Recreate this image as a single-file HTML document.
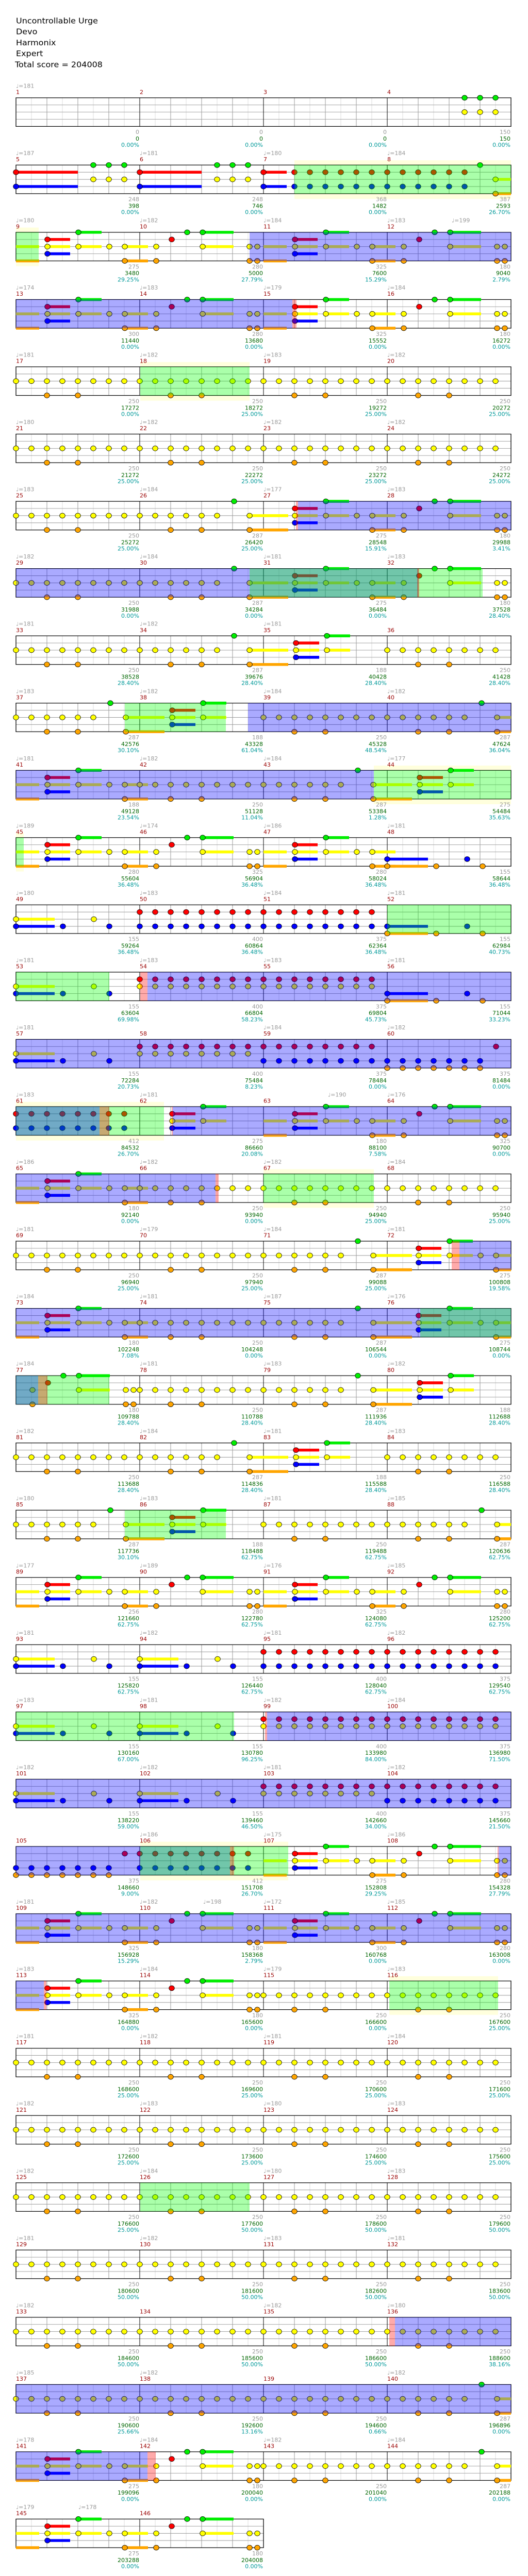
<!DOCTYPE html>
<html><head><meta charset="utf-8"><style>
html,body{margin:0;padding:0;background:#fff;overflow:hidden}
svg{display:block}
circle{r:5.3px;stroke:#000;stroke-width:.8}
.y{fill:#ff0}.o{fill:#ffa500}.r{fill:#f00}.g{fill:#0e0}.bl{fill:#00f}
.sy{stroke:#ff0;stroke-width:6}.so{stroke:#ffa500;stroke-width:6}.sr{stroke:#f00;stroke-width:6}.sg{stroke:#0e0;stroke-width:6}.sb{stroke:#00f;stroke-width:6}
.ob{fill:#00f;opacity:.333}.og{fill:#0f0;opacity:.333}.or{fill:#f00;opacity:.333}.pb{fill:#ffffdd}
text{font-family:"DejaVu Sans","Liberation Sans",sans-serif;font-size:11px}
.t{fill:#999}.m{fill:#900}.a{fill:#999;text-anchor:end}.b{fill:#060;text-anchor:end}.c{fill:#099;text-anchor:end}
.ti{font-size:16px;fill:#000}
</style></head><body>
<svg xmlns="http://www.w3.org/2000/svg" xmlns:xlink="http://www.w3.org/1999/xlink" width="1024" height="5020" viewBox="0 0 1024 5422" preserveAspectRatio="none">
<defs>
<g id="g4">
<rect x="31" y="0" width="960" height="60" fill="#fff"/>
<path d="M61 0v60M121 0v60M181 0v60M241 0v60M301 0v60M361 0v60M421 0v60M481 0v60M541 0v60M601 0v60M661 0v60M721 0v60M781 0v60M841 0v60M901 0v60M961 0v60" stroke="#ddd"/>
<path d="M91 0v60M151 0v60M211 0v60M331 0v60M391 0v60M451 0v60M571 0v60M631 0v60M691 0v60M811 0v60M871 0v60M931 0v60M31 15h960M31 30h960M31 45h960" stroke="#999"/>
<path d="M271 0v60M511 0v60M751 0v60" stroke="#000"/>
<rect x="31" y="0" width="960" height="60" fill="none" stroke="#000" stroke-width="1.3"/>
</g>
<g id="g2">
<rect x="31" y="0" width="480" height="60" fill="#fff"/>
<path d="M61 0v60M121 0v60M181 0v60M241 0v60M301 0v60M361 0v60M421 0v60M481 0v60" stroke="#ddd"/>
<path d="M91 0v60M151 0v60M211 0v60M331 0v60M391 0v60M451 0v60M31 15h480M31 30h480M31 45h480" stroke="#999"/>
<path d="M271 0v60" stroke="#000"/>
<rect x="31" y="0" width="480" height="60" fill="none" stroke="#000" stroke-width="1.3"/>
</g>
<g id="S"><circle class="y" cx="0" cy="30"/><circle class="y" cx="30" cy="30"/><circle class="y" cx="60" cy="30"/><circle class="y" cx="90" cy="30"/><circle class="y" cx="120" cy="30"/><circle class="y" cx="150" cy="30"/><circle class="y" cx="180" cy="30"/><circle class="y" cx="210" cy="30"/><circle class="o" cx="60" cy="60"/><circle class="o" cx="120" cy="60"/></g>
<g id="SE"><path class="sy" d="M213 30h75"/><path class="so" d="M213 60h75"/><circle class="y" cx="0" cy="30"/><circle class="y" cx="30" cy="30"/><circle class="y" cx="60" cy="30"/><circle class="y" cx="90" cy="30"/><circle class="y" cx="120" cy="30"/><circle class="y" cx="150" cy="30"/><circle class="o" cx="60" cy="60"/><circle class="o" cx="120" cy="60"/><circle class="g" cx="183" cy="0"/><circle class="y" cx="213" cy="30"/><circle class="o" cx="213" cy="60"/></g>
<g id="SEx"><path class="sy" d="M213 30h27"/><path class="so" d="M213 60h27"/><circle class="y" cx="0" cy="30"/><circle class="y" cx="30" cy="30"/><circle class="y" cx="60" cy="30"/><circle class="y" cx="90" cy="30"/><circle class="y" cx="120" cy="30"/><circle class="y" cx="150" cy="30"/><circle class="o" cx="60" cy="60"/><circle class="o" cx="120" cy="60"/><circle class="g" cx="183" cy="0"/><circle class="y" cx="213" cy="30"/><circle class="o" cx="213" cy="60"/></g>
<g id="T"><path class="sr" d="M63 15h45"/><path class="sy" d="M63 30h45M123 30h45"/><path class="sb" d="M63 45h45"/><path class="sg" d="M123 0h45"/><circle class="r" cx="63" cy="15"/><circle class="y" cx="63" cy="30"/><circle class="bl" cx="63" cy="45"/><circle class="g" cx="123" cy="0"/><circle class="y" cx="123" cy="30"/></g>
<g id="PA"><path class="sy" d="M0 30h45M61 30h44M121 30h45M211 30h45"/><path class="so" d="M0 60h45M211 60h45"/><path class="sr" d="M61 15h44"/><path class="sb" d="M61 45h44"/><path class="sg" d="M121 0h45"/><circle class="r" cx="61" cy="15"/><circle class="y" cx="61" cy="30"/><circle class="bl" cx="61" cy="45"/><circle class="g" cx="121" cy="0"/><circle class="y" cx="121" cy="30"/><circle class="y" cx="181" cy="30"/><circle class="y" cx="211" cy="30"/><circle class="o" cx="211" cy="60"/></g>
<g id="PAx"><path class="sy" d="M0 30h45M61 30h44M121 30h45M211 30h29"/><path class="so" d="M0 60h45M211 60h29"/><path class="sr" d="M61 15h44"/><path class="sb" d="M61 45h44"/><path class="sg" d="M121 0h45"/><circle class="r" cx="61" cy="15"/><circle class="y" cx="61" cy="30"/><circle class="bl" cx="61" cy="45"/><circle class="g" cx="121" cy="0"/><circle class="y" cx="121" cy="30"/><circle class="y" cx="181" cy="30"/><circle class="y" cx="211" cy="30"/><circle class="o" cx="211" cy="60"/></g>
<g id="PB"><path class="sg" d="M122 0h60"/><path class="sy" d="M122 30h60"/><circle class="y" cx="32" cy="30"/><circle class="o" cx="32" cy="60"/><circle class="r" cx="62" cy="15"/><circle class="g" cx="92" cy="0"/><circle class="g" cx="122" cy="0"/><circle class="y" cx="122" cy="30"/><circle class="y" cx="213" cy="30"/><circle class="y" cx="228" cy="30"/><circle class="o" cx="213" cy="60"/><circle class="o" cx="228" cy="60"/></g>
<g id="RB0"><path class="sy" d="M0 30h75"/><path class="sb" d="M0 45h75"/><circle class="y" cx="0" cy="30"/><circle class="bl" cx="0" cy="45"/><circle class="bl" cx="91" cy="45"/><circle class="y" cx="151" cy="30"/><circle class="bl" cx="181" cy="45"/></g>
<g id="RBs"><circle class="r" cx="0" cy="15"/><circle class="r" cx="30" cy="15"/><circle class="r" cx="60" cy="15"/><circle class="r" cx="90" cy="15"/><circle class="r" cx="120" cy="15"/><circle class="r" cx="150" cy="15"/><circle class="r" cx="180" cy="15"/><circle class="r" cx="210" cy="15"/><circle class="bl" cx="0" cy="45"/><circle class="bl" cx="30" cy="45"/><circle class="bl" cx="60" cy="45"/><circle class="bl" cx="90" cy="45"/><circle class="bl" cx="120" cy="45"/><circle class="bl" cx="150" cy="45"/><circle class="bl" cx="180" cy="45"/><circle class="bl" cx="210" cy="45"/></g>
<g id="RY"><circle class="r" cx="0" cy="15"/><circle class="r" cx="30" cy="15"/><circle class="r" cx="60" cy="15"/><circle class="r" cx="90" cy="15"/><circle class="r" cx="120" cy="15"/><circle class="r" cx="150" cy="15"/><circle class="r" cx="180" cy="15"/><circle class="r" cx="210" cy="15"/><circle class="y" cx="0" cy="30"/><circle class="y" cx="30" cy="30"/><circle class="y" cx="60" cy="30"/><circle class="y" cx="90" cy="30"/><circle class="y" cx="120" cy="30"/><circle class="y" cx="150" cy="30"/><circle class="y" cx="180" cy="30"/><circle class="y" cx="210" cy="30"/></g>
<g id="RB3"><path class="sb" d="M0 45h79"/><path class="so" d="M0 60h79"/><circle class="bl" cx="0" cy="45"/><circle class="o" cx="0" cy="60"/><circle class="o" cx="95" cy="60"/><circle class="bl" cx="155" cy="45"/><circle class="o" cx="185" cy="60"/></g>
<g id="BO"><circle class="bl" cx="0" cy="45"/><circle class="bl" cx="30" cy="45"/><circle class="bl" cx="60" cy="45"/><circle class="bl" cx="90" cy="45"/><circle class="bl" cx="120" cy="45"/><circle class="bl" cx="150" cy="45"/><circle class="bl" cx="180" cy="45"/><circle class="o" cx="0" cy="60"/><circle class="o" cx="30" cy="60"/><circle class="o" cx="60" cy="60"/><circle class="o" cx="90" cy="60"/><circle class="o" cx="120" cy="60"/><circle class="o" cx="150" cy="60"/><circle class="o" cx="180" cy="60"/><circle class="r" cx="211" cy="15"/></g>
<g id="G4"><circle class="g" cx="150" cy="0"/><circle class="g" cx="180" cy="0"/><circle class="g" cx="210" cy="0"/><circle class="y" cx="150" cy="30"/><circle class="y" cx="180" cy="30"/><circle class="y" cx="210" cy="30"/></g>
<g id="H"><path class="sr" d="M0 15h120"/><path class="sb" d="M0 45h120"/><circle class="r" cx="0" cy="15"/><circle class="bl" cx="0" cy="45"/><use href="#G4"/></g>
<g id="H2"><path class="sr" d="M0 15h45"/><path class="sb" d="M0 45h45"/><circle class="r" cx="0" cy="15"/><circle class="bl" cx="0" cy="45"/><circle class="r" cx="60" cy="15"/><circle class="r" cx="90" cy="15"/><circle class="r" cx="120" cy="15"/><circle class="r" cx="150" cy="15"/><circle class="r" cx="180" cy="15"/><circle class="r" cx="210" cy="15"/><circle class="bl" cx="60" cy="45"/><circle class="bl" cx="90" cy="45"/><circle class="bl" cx="120" cy="45"/><circle class="bl" cx="150" cy="45"/><circle class="bl" cx="180" cy="45"/><circle class="bl" cx="210" cy="45"/></g>
<g id="H3"><path class="sy" d="M210 30h30"/><path class="so" d="M210 60h30"/><circle class="r" cx="0" cy="15"/><circle class="r" cx="30" cy="15"/><circle class="r" cx="60" cy="15"/><circle class="r" cx="90" cy="15"/><circle class="r" cx="120" cy="15"/><circle class="r" cx="150" cy="15"/><circle class="bl" cx="0" cy="45"/><circle class="bl" cx="30" cy="45"/><circle class="bl" cx="60" cy="45"/><circle class="bl" cx="90" cy="45"/><circle class="bl" cx="120" cy="45"/><circle class="bl" cx="150" cy="45"/><circle class="g" cx="180" cy="0"/><circle class="y" cx="210" cy="30"/><circle class="o" cx="210" cy="60"/></g>
</defs>

<text class="ti" x="31" y="49">Uncontrollable Urge</text>
<text class="ti" x="31" y="72">Devo</text>
<text class="ti" x="31" y="95">Harmonix</text>
<text class="ti" x="31" y="118">Expert</text>
<text class="ti" x="29" y="141">Total score = 204008</text>

<!-- row 0 -->
<g transform="translate(0,205)"><use href="#g4"/><use href="#G4" x="751"/>
<text class="t" x="31" y="-21">♩=181</text>
<text class="m" x="31" y="-8">1</text><text class="m" x="271" y="-8">2</text><text class="m" x="511" y="-8">3</text><text class="m" x="751" y="-8">4</text>
<text class="a" x="270" y="76">0</text><text class="b" x="270" y="90">0</text><text class="c" x="270" y="103">0.00%</text>
<text class="a" x="510" y="76">0</text><text class="b" x="510" y="90">0</text><text class="c" x="510" y="103">0.00%</text>
<text class="a" x="750" y="76">0</text><text class="b" x="750" y="90">0</text><text class="c" x="750" y="103">0.00%</text>
<text class="a" x="990" y="76">150</text><text class="b" x="990" y="90">150</text><text class="c" x="990" y="103">0.00%</text></g>

<!-- row 1 -->
<g transform="translate(0,346)"><rect class="pb" x="571" y="-10" width="420" height="81"/><use href="#g4"/><use href="#H" x="31"/><use href="#H" x="271"/><use href="#H2" x="511"/><use href="#H3" x="751"/>
<rect class="og" x="571" y="0" width="420" height="60"/>
<text class="t" x="31" y="-21">♩=187</text><text class="t" x="271" y="-21">♩=181</text><text class="t" x="511" y="-21">♩=180</text><text class="t" x="751" y="-21">♩=184</text>
<text class="m" x="31" y="-8">5</text><text class="m" x="271" y="-8">6</text><text class="m" x="511" y="-8">7</text><text class="m" x="751" y="-8">8</text>
<text class="a" x="270" y="76">248</text><text class="b" x="270" y="90">398</text><text class="c" x="270" y="103">0.00%</text>
<text class="a" x="510" y="76">248</text><text class="b" x="510" y="90">746</text><text class="c" x="510" y="103">0.00%</text>
<text class="a" x="750" y="76">368</text><text class="b" x="750" y="90">1482</text><text class="c" x="750" y="103">0.00%</text>
<text class="a" x="990" y="76">387</text><text class="b" x="990" y="90">2593</text><text class="c" x="990" y="103">26.70%</text></g>

<!-- row 2 -->
<g transform="translate(0,487)"><rect class="pb" x="31" y="-10" width="44" height="81"/><use href="#g4"/><use href="#PA" x="31"/><use href="#PB" x="271"/><use href="#PA" x="511"/><use href="#PB" x="751"/>
<rect class="og" x="31" y="0" width="44" height="60"/><rect class="ob" x="484" y="0" width="507" height="60"/>
<text class="t" x="31" y="-21">♩=180</text><text class="t" x="271" y="-21">♩=182</text><text class="t" x="511" y="-21">♩=184</text><text class="t" x="751" y="-21">♩=183</text><text class="t" x="876" y="-21">♩=199</text>
<text class="m" x="31" y="-8">9</text><text class="m" x="271" y="-8">10</text><text class="m" x="511" y="-8">11</text><text class="m" x="751" y="-8">12</text>
<text class="a" x="270" y="76">275</text><text class="b" x="270" y="90">3480</text><text class="c" x="270" y="103">29.25%</text>
<text class="a" x="510" y="76">280</text><text class="b" x="510" y="90">5000</text><text class="c" x="510" y="103">27.79%</text>
<text class="a" x="750" y="76">325</text><text class="b" x="750" y="90">7600</text><text class="c" x="750" y="103">15.29%</text>
<text class="a" x="990" y="76">180</text><text class="b" x="990" y="90">9040</text><text class="c" x="990" y="103">2.79%</text></g>

<!-- row 3 -->
<g transform="translate(0,628)"><use href="#g4"/><use href="#PA" x="31"/><use href="#PB" x="271"/><use href="#PA" x="511"/><use href="#PB" x="751"/>
<rect class="ob" x="31" y="0" width="536" height="60"/><rect class="or" x="567" y="0" width="8" height="60"/>
<text class="t" x="31" y="-21">♩=174</text><text class="t" x="271" y="-21">♩=183</text><text class="t" x="511" y="-21">♩=179</text><text class="t" x="751" y="-21">♩=184</text>
<text class="m" x="31" y="-8">13</text><text class="m" x="271" y="-8">14</text><text class="m" x="511" y="-8">15</text><text class="m" x="751" y="-8">16</text>
<text class="a" x="270" y="76">300</text><text class="b" x="270" y="90">11440</text><text class="c" x="270" y="103">0.00%</text>
<text class="a" x="510" y="76">280</text><text class="b" x="510" y="90">13680</text><text class="c" x="510" y="103">0.00%</text>
<text class="a" x="750" y="76">325</text><text class="b" x="750" y="90">15552</text><text class="c" x="750" y="103">0.00%</text>
<text class="a" x="990" y="76">180</text><text class="b" x="990" y="90">16272</text><text class="c" x="990" y="103">0.00%</text></g>

<!-- row 4 -->
<g transform="translate(0,769)"><rect class="pb" x="272" y="-10" width="212" height="81"/><use href="#g4"/><use href="#S" x="31"/><use href="#S" x="271"/><use href="#S" x="511"/><use href="#S" x="751"/>
<rect class="og" x="272" y="0" width="212" height="60"/>
<text class="t" x="31" y="-21">♩=181</text><text class="t" x="271" y="-21">♩=182</text><text class="t" x="511" y="-21">♩=183</text><text class="t" x="751" y="-21">♩=182</text>
<text class="m" x="31" y="-8">17</text><text class="m" x="271" y="-8">18</text><text class="m" x="511" y="-8">19</text><text class="m" x="751" y="-8">20</text>
<text class="a" x="270" y="76">250</text><text class="b" x="270" y="90">17272</text><text class="c" x="270" y="103">0.00%</text>
<text class="a" x="510" y="76">250</text><text class="b" x="510" y="90">18272</text><text class="c" x="510" y="103">25.00%</text>
<text class="a" x="750" y="76">250</text><text class="b" x="750" y="90">19272</text><text class="c" x="750" y="103">25.00%</text>
<text class="a" x="990" y="76">250</text><text class="b" x="990" y="90">20272</text><text class="c" x="990" y="103">25.00%</text></g>

<!-- row 5 -->
<g transform="translate(0,910)"><use href="#g4"/><use href="#S" x="31"/><use href="#S" x="271"/><use href="#S" x="511"/><use href="#S" x="751"/>
<text class="t" x="31" y="-21">♩=180</text><text class="t" x="271" y="-21">♩=182</text><text class="t" x="511" y="-21">♩=182</text><text class="t" x="751" y="-21">♩=182</text>
<text class="m" x="31" y="-8">21</text><text class="m" x="271" y="-8">22</text><text class="m" x="511" y="-8">23</text><text class="m" x="751" y="-8">24</text>
<text class="a" x="270" y="76">250</text><text class="b" x="270" y="90">21272</text><text class="c" x="270" y="103">25.00%</text>
<text class="a" x="510" y="76">250</text><text class="b" x="510" y="90">22272</text><text class="c" x="510" y="103">25.00%</text>
<text class="a" x="750" y="76">250</text><text class="b" x="750" y="90">23272</text><text class="c" x="750" y="103">25.00%</text>
<text class="a" x="990" y="76">250</text><text class="b" x="990" y="90">24272</text><text class="c" x="990" y="103">25.00%</text></g>

<!-- row 6 -->
<g transform="translate(0,1051)"><use href="#g4"/><use href="#S" x="31"/><use href="#SE" x="271"/><use href="#PA" x="511"/><use href="#PB" x="751"/>
<rect class="or" x="574" y="0" width="4" height="60"/><rect class="ob" x="578" y="0" width="413" height="60"/>
<text class="t" x="31" y="-21">♩=183</text><text class="t" x="271" y="-21">♩=184</text><text class="t" x="511" y="-21">♩=177</text><text class="t" x="751" y="-21">♩=183</text>
<text class="m" x="31" y="-8">25</text><text class="m" x="271" y="-8">26</text><text class="m" x="511" y="-8">27</text><text class="m" x="751" y="-8">28</text>
<text class="a" x="270" y="76">250</text><text class="b" x="270" y="90">25272</text><text class="c" x="270" y="103">25.00%</text>
<text class="a" x="510" y="76">287</text><text class="b" x="510" y="90">26420</text><text class="c" x="510" y="103">25.00%</text>
<text class="a" x="750" y="76">275</text><text class="b" x="750" y="90">28548</text><text class="c" x="750" y="103">15.91%</text>
<text class="a" x="990" y="76">180</text><text class="b" x="990" y="90">29988</text><text class="c" x="990" y="103">3.41%</text></g>

<!-- row 7 -->
<g transform="translate(0,1192)"><use href="#g4"/><use href="#S" x="31"/><use href="#SE" x="271"/><use href="#PA" x="511"/><use href="#PB" x="751"/>
<rect class="ob" x="31" y="0" width="780" height="60"/><rect class="og" x="484" y="0" width="452" height="60"/><rect class="or" x="809" y="0" width="4" height="60"/>
<text class="t" x="31" y="-21">♩=182</text><text class="t" x="271" y="-21">♩=184</text><text class="t" x="511" y="-21">♩=181</text><text class="t" x="751" y="-21">♩=183</text>
<text class="m" x="31" y="-8">29</text><text class="m" x="271" y="-8">30</text><text class="m" x="511" y="-8">31</text><text class="m" x="751" y="-8">32</text>
<text class="a" x="270" y="76">250</text><text class="b" x="270" y="90">31988</text><text class="c" x="270" y="103">0.00%</text>
<text class="a" x="510" y="76">287</text><text class="b" x="510" y="90">34284</text><text class="c" x="510" y="103">0.00%</text>
<text class="a" x="750" y="76">275</text><text class="b" x="750" y="90">36484</text><text class="c" x="750" y="103">0.00%</text>
<text class="a" x="990" y="76">180</text><text class="b" x="990" y="90">37528</text><text class="c" x="990" y="103">28.40%</text></g>

<!-- row 8 -->
<g transform="translate(0,1333)"><use href="#g4"/><use href="#S" x="31"/><use href="#SE" x="271"/><use href="#T" x="511"/><use href="#S" x="751"/>
<text class="t" x="31" y="-21">♩=181</text><text class="t" x="271" y="-21">♩=182</text><text class="t" x="511" y="-21">♩=181</text>
<text class="m" x="31" y="-8">33</text><text class="m" x="271" y="-8">34</text><text class="m" x="511" y="-8">35</text><text class="m" x="751" y="-8">36</text>
<text class="a" x="270" y="76">250</text><text class="b" x="270" y="90">38528</text><text class="c" x="270" y="103">28.40%</text>
<text class="a" x="510" y="76">287</text><text class="b" x="510" y="90">39676</text><text class="c" x="510" y="103">28.40%</text>
<text class="a" x="750" y="76">188</text><text class="b" x="750" y="90">40428</text><text class="c" x="750" y="103">28.40%</text>
<text class="a" x="990" y="76">250</text><text class="b" x="990" y="90">41428</text><text class="c" x="990" y="103">28.40%</text></g>

<!-- row 9 -->
<g transform="translate(0,1474)"><use href="#g4"/><use href="#SE" x="31"/><use href="#T" x="271"/><use href="#S" x="511"/><use href="#SEx" x="751"/>
<rect class="og" x="242" y="0" width="196" height="60"/><rect class="ob" x="481" y="0" width="510" height="60"/>
<text class="t" x="31" y="-21">♩=183</text><text class="t" x="271" y="-21">♩=182</text><text class="t" x="511" y="-21">♩=184</text><text class="t" x="751" y="-21">♩=182</text>
<text class="m" x="31" y="-8">37</text><text class="m" x="271" y="-8">38</text><text class="m" x="511" y="-8">39</text><text class="m" x="751" y="-8">40</text>
<text class="a" x="270" y="76">287</text><text class="b" x="270" y="90">42576</text><text class="c" x="270" y="103">30.10%</text>
<text class="a" x="510" y="76">188</text><text class="b" x="510" y="90">43328</text><text class="c" x="510" y="103">61.04%</text>
<text class="a" x="750" y="76">250</text><text class="b" x="750" y="90">45328</text><text class="c" x="750" y="103">48.54%</text>
<text class="a" x="990" y="76">287</text><text class="b" x="990" y="90">47624</text><text class="c" x="990" y="103">36.04%</text></g>

<!-- row 10 -->
<g transform="translate(0,1615)"><rect class="pb" x="725" y="-10" width="266" height="81"/><use href="#g4"/><use href="#PA" x="31"/><use href="#S" x="271"/><use href="#SE" x="511"/><use href="#T" x="751"/>
<rect class="ob" x="31" y="0" width="694" height="60"/><rect class="og" x="725" y="0" width="266" height="60"/>
<text class="t" x="31" y="-21">♩=181</text><text class="t" x="271" y="-21">♩=182</text><text class="t" x="511" y="-21">♩=184</text><text class="t" x="751" y="-21">♩=177</text>
<text class="m" x="31" y="-8">41</text><text class="m" x="271" y="-8">42</text><text class="m" x="511" y="-8">43</text><text class="m" x="751" y="-8">44</text>
<text class="a" x="270" y="76">188</text><text class="b" x="270" y="90">49128</text><text class="c" x="270" y="103">23.54%</text>
<text class="a" x="510" y="76">250</text><text class="b" x="510" y="90">51128</text><text class="c" x="510" y="103">11.04%</text>
<text class="a" x="750" y="76">287</text><text class="b" x="750" y="90">53384</text><text class="c" x="750" y="103">1.28%</text>
<text class="a" x="990" y="76">275</text><text class="b" x="990" y="90">54484</text><text class="c" x="990" y="103">35.63%</text></g>

<!-- row 11 -->
<g transform="translate(0,1756)"><rect class="pb" x="31" y="-10" width="15" height="81"/><use href="#g4"/><use href="#PA" x="31"/><use href="#PB" x="271"/><use href="#PA" x="511"/><use href="#RB3" x="751"/>
<rect class="og" x="31" y="0" width="15" height="60"/>
<text class="t" x="31" y="-21">♩=189</text><text class="t" x="271" y="-21">♩=174</text><text class="t" x="511" y="-21">♩=186</text><text class="t" x="751" y="-21">♩=181</text>
<text class="m" x="31" y="-8">45</text><text class="m" x="271" y="-8">46</text><text class="m" x="511" y="-8">47</text><text class="m" x="751" y="-8">48</text>
<text class="a" x="270" y="76">280</text><text class="b" x="270" y="90">55604</text><text class="c" x="270" y="103">36.48%</text>
<text class="a" x="510" y="76">325</text><text class="b" x="510" y="90">56904</text><text class="c" x="510" y="103">36.48%</text>
<text class="a" x="750" y="76">280</text><text class="b" x="750" y="90">58024</text><text class="c" x="750" y="103">36.48%</text>
<text class="a" x="990" y="76">155</text><text class="b" x="990" y="90">58644</text><text class="c" x="990" y="103">36.48%</text></g>

<!-- row 12 -->
<g transform="translate(0,1897)"><use href="#g4"/><use href="#RB0" x="31"/><use href="#RBs" x="271"/><use href="#RBs" x="511"/><use href="#RB3" x="751"/>
<rect class="og" x="751" y="0" width="240" height="60"/>
<text class="t" x="31" y="-21">♩=180</text><text class="t" x="271" y="-21">♩=183</text><text class="t" x="511" y="-21">♩=184</text><text class="t" x="751" y="-21">♩=181</text>
<text class="m" x="31" y="-8">49</text><text class="m" x="271" y="-8">50</text><text class="m" x="511" y="-8">51</text><text class="m" x="751" y="-8">52</text>
<text class="a" x="270" y="76">155</text><text class="b" x="270" y="90">59264</text><text class="c" x="270" y="103">36.48%</text>
<text class="a" x="510" y="76">400</text><text class="b" x="510" y="90">60864</text><text class="c" x="510" y="103">36.48%</text>
<text class="a" x="750" y="76">375</text><text class="b" x="750" y="90">62364</text><text class="c" x="750" y="103">36.48%</text>
<text class="a" x="990" y="76">155</text><text class="b" x="990" y="90">62984</text><text class="c" x="990" y="103">40.73%</text></g>

<!-- row 13 -->
<g transform="translate(0,2038)"><use href="#g4"/><use href="#RB0" x="31"/><use href="#RY" x="271"/><use href="#RY" x="511"/><use href="#RB3" x="751"/>
<rect class="og" x="31" y="0" width="181" height="60"/><rect class="or" x="272" y="0" width="14" height="60"/><rect class="ob" x="286" y="0" width="705" height="60"/>
<text class="t" x="31" y="-21">♩=181</text><text class="t" x="271" y="-21">♩=183</text><text class="t" x="511" y="-21">♩=183</text><text class="t" x="751" y="-21">♩=181</text>
<text class="m" x="31" y="-8">53</text><text class="m" x="271" y="-8">54</text><text class="m" x="511" y="-8">55</text><text class="m" x="751" y="-8">56</text>
<text class="a" x="270" y="76">155</text><text class="b" x="270" y="90">63604</text><text class="c" x="270" y="103">69.98%</text>
<text class="a" x="510" y="76">400</text><text class="b" x="510" y="90">66804</text><text class="c" x="510" y="103">58.23%</text>
<text class="a" x="750" y="76">375</text><text class="b" x="750" y="90">69804</text><text class="c" x="750" y="103">45.73%</text>
<text class="a" x="990" y="76">155</text><text class="b" x="990" y="90">71044</text><text class="c" x="990" y="103">33.23%</text></g>

<!-- row 14 -->
<g transform="translate(0,2179)"><use href="#g4"/><use href="#RB0" x="31"/><use href="#RY" x="271"/><use href="#RBs" x="511"/><use href="#BO" x="751"/>
<rect class="ob" x="31" y="0" width="960" height="60"/>
<text class="t" x="31" y="-21">♩=181</text><text class="t" x="511" y="-21">♩=184</text><text class="t" x="751" y="-21">♩=182</text>
<text class="m" x="31" y="-8">57</text><text class="m" x="271" y="-8">58</text><text class="m" x="511" y="-8">59</text><text class="m" x="751" y="-8">60</text>
<text class="a" x="270" y="76">155</text><text class="b" x="270" y="90">72284</text><text class="c" x="270" y="103">20.73%</text>
<text class="a" x="510" y="76">400</text><text class="b" x="510" y="90">75484</text><text class="c" x="510" y="103">8.23%</text>
<text class="a" x="750" y="76">375</text><text class="b" x="750" y="90">78484</text><text class="c" x="750" y="103">0.00%</text>
<text class="a" x="990" y="76">375</text><text class="b" x="990" y="90">81484</text><text class="c" x="990" y="103">0.00%</text></g>

<!-- row 15 -->
<g transform="translate(0,2320)"><rect class="pb" x="31" y="-10" width="287" height="81"/><use href="#g4"/><use href="#RBs" x="31"/><use href="#T" x="271"/><use href="#PA" x="511"/><use href="#PB" x="751"/>
<rect class="og" x="31" y="0" width="287" height="60"/><rect class="ob" x="31" y="0" width="162" height="60"/><rect class="or" x="193" y="0" width="19" height="60"/><rect class="or" x="333" y="0" width="2" height="60"/><rect class="ob" x="335" y="0" width="656" height="60"/>
<text class="t" x="31" y="-21">♩=183</text><text class="t" x="271" y="-21">♩=181</text><text class="t" x="636" y="-21">♩=190</text><text class="t" x="751" y="-21">♩=176</text>
<text class="m" x="31" y="-8">61</text><text class="m" x="271" y="-8">62</text><text class="m" x="511" y="-8">63</text><text class="m" x="751" y="-8">64</text>
<text class="a" x="270" y="76">412</text><text class="b" x="270" y="90">84532</text><text class="c" x="270" y="103">26.70%</text>
<text class="a" x="510" y="76">275</text><text class="b" x="510" y="90">86660</text><text class="c" x="510" y="103">20.08%</text>
<text class="a" x="750" y="76">180</text><text class="b" x="750" y="90">88100</text><text class="c" x="750" y="103">7.58%</text>
<text class="a" x="990" y="76">325</text><text class="b" x="990" y="90">90700</text><text class="c" x="990" y="103">0.00%</text></g>

<!-- row 16 -->
<g transform="translate(0,2461)"><rect class="pb" x="511" y="-10" width="214" height="81"/><use href="#g4"/><use href="#PA" x="31"/><use href="#S" x="271"/><use href="#S" x="511"/><use href="#S" x="751"/>
<rect class="ob" x="31" y="0" width="387" height="60"/><rect class="or" x="418" y="0" width="6" height="60"/><rect class="og" x="511" y="0" width="214" height="60"/>
<text class="t" x="31" y="-21">♩=186</text><text class="t" x="271" y="-21">♩=182</text><text class="t" x="511" y="-21">♩=182</text><text class="t" x="751" y="-21">♩=184</text>
<text class="m" x="31" y="-8">65</text><text class="m" x="271" y="-8">66</text><text class="m" x="511" y="-8">67</text><text class="m" x="751" y="-8">68</text>
<text class="a" x="270" y="76">180</text><text class="b" x="270" y="90">92140</text><text class="c" x="270" y="103">0.00%</text>
<text class="a" x="510" y="76">250</text><text class="b" x="510" y="90">93940</text><text class="c" x="510" y="103">0.00%</text>
<text class="a" x="750" y="76">250</text><text class="b" x="750" y="90">94940</text><text class="c" x="750" y="103">25.00%</text>
<text class="a" x="990" y="76">250</text><text class="b" x="990" y="90">95940</text><text class="c" x="990" y="103">25.00%</text></g>

<!-- row 17 -->
<g transform="translate(0,2602)"><use href="#g4"/><use href="#S" x="31"/><use href="#S" x="271"/><use href="#SE" x="511"/><use href="#PAx" x="751"/>
<rect class="or" x="876" y="0" width="15" height="60"/><rect class="ob" x="891" y="0" width="100" height="60"/>
<text class="t" x="31" y="-21">♩=181</text><text class="t" x="271" y="-21">♩=179</text><text class="t" x="511" y="-21">♩=184</text><text class="t" x="751" y="-21">♩=181</text>
<text class="m" x="31" y="-8">69</text><text class="m" x="271" y="-8">70</text><text class="m" x="511" y="-8">71</text><text class="m" x="751" y="-8">72</text>
<text class="a" x="270" y="76">250</text><text class="b" x="270" y="90">96940</text><text class="c" x="270" y="103">25.00%</text>
<text class="a" x="510" y="76">250</text><text class="b" x="510" y="90">97940</text><text class="c" x="510" y="103">25.00%</text>
<text class="a" x="750" y="76">287</text><text class="b" x="750" y="90">99088</text><text class="c" x="750" y="103">25.00%</text>
<text class="a" x="990" y="76">275</text><text class="b" x="990" y="90">100808</text><text class="c" x="990" y="103">19.58%</text></g>

<!-- row 18 -->
<g transform="translate(0,2743)"><use href="#g4"/><use href="#PA" x="31"/><use href="#S" x="271"/><use href="#SE" x="511"/><use href="#PAx" x="751"/>
<rect class="ob" x="31" y="0" width="960" height="60"/><rect class="og" x="815" y="0" width="176" height="60"/>
<text class="t" x="31" y="-21">♩=184</text><text class="t" x="271" y="-21">♩=181</text><text class="t" x="511" y="-21">♩=187</text><text class="t" x="751" y="-21">♩=176</text>
<text class="m" x="31" y="-8">73</text><text class="m" x="271" y="-8">74</text><text class="m" x="511" y="-8">75</text><text class="m" x="751" y="-8">76</text>
<text class="a" x="270" y="76">180</text><text class="b" x="270" y="90">102248</text><text class="c" x="270" y="103">7.08%</text>
<text class="a" x="510" y="76">250</text><text class="b" x="510" y="90">104248</text><text class="c" x="510" y="103">0.00%</text>
<text class="a" x="750" y="76">287</text><text class="b" x="750" y="90">106544</text><text class="c" x="750" y="103">0.00%</text>
<text class="a" x="990" y="76">275</text><text class="b" x="990" y="90">108744</text><text class="c" x="990" y="103">0.00%</text></g>

<!-- row 19 -->
<g transform="translate(0,2884)"><use href="#g4"/><use href="#PB" x="31"/><use href="#S" x="271"/><use href="#SE" x="511"/><use href="#T" x="751"/>
<rect class="og" x="31" y="0" width="181" height="60"/><rect class="ob" x="31" y="0" width="43" height="60"/><rect class="or" x="74" y="0" width="18" height="60"/>
<text class="t" x="31" y="-21">♩=184</text><text class="t" x="271" y="-21">♩=181</text><text class="t" x="511" y="-21">♩=183</text><text class="t" x="751" y="-21">♩=182</text>
<text class="m" x="31" y="-8">77</text><text class="m" x="271" y="-8">78</text><text class="m" x="511" y="-8">79</text><text class="m" x="751" y="-8">80</text>
<text class="a" x="270" y="76">180</text><text class="b" x="270" y="90">109788</text><text class="c" x="270" y="103">28.40%</text>
<text class="a" x="510" y="76">250</text><text class="b" x="510" y="90">110788</text><text class="c" x="510" y="103">28.40%</text>
<text class="a" x="750" y="76">287</text><text class="b" x="750" y="90">111936</text><text class="c" x="750" y="103">28.40%</text>
<text class="a" x="990" y="76">188</text><text class="b" x="990" y="90">112688</text><text class="c" x="990" y="103">28.40%</text></g>

<!-- row 20 -->
<g transform="translate(0,3025)"><use href="#g4"/><use href="#S" x="31"/><use href="#SE" x="271"/><use href="#T" x="511"/><use href="#S" x="751"/>
<text class="t" x="31" y="-21">♩=182</text><text class="t" x="271" y="-21">♩=184</text><text class="t" x="511" y="-21">♩=181</text><text class="t" x="751" y="-21">♩=183</text>
<text class="m" x="31" y="-8">81</text><text class="m" x="271" y="-8">82</text><text class="m" x="511" y="-8">83</text><text class="m" x="751" y="-8">84</text>
<text class="a" x="270" y="76">250</text><text class="b" x="270" y="90">113688</text><text class="c" x="270" y="103">28.40%</text>
<text class="a" x="510" y="76">287</text><text class="b" x="510" y="90">114836</text><text class="c" x="510" y="103">28.40%</text>
<text class="a" x="750" y="76">188</text><text class="b" x="750" y="90">115588</text><text class="c" x="750" y="103">28.40%</text>
<text class="a" x="990" y="76">250</text><text class="b" x="990" y="90">116588</text><text class="c" x="990" y="103">28.40%</text></g>

<!-- row 21 -->
<g transform="translate(0,3166)"><use href="#g4"/><use href="#SE" x="31"/><use href="#T" x="271"/><use href="#S" x="511"/><use href="#SEx" x="751"/>
<rect class="og" x="242" y="0" width="196" height="60"/>
<text class="t" x="31" y="-21">♩=180</text><text class="t" x="271" y="-21">♩=183</text><text class="t" x="511" y="-21">♩=181</text><text class="t" x="751" y="-21">♩=185</text>
<text class="m" x="31" y="-8">85</text><text class="m" x="271" y="-8">86</text><text class="m" x="511" y="-8">87</text><text class="m" x="751" y="-8">88</text>
<text class="a" x="270" y="76">287</text><text class="b" x="270" y="90">117736</text><text class="c" x="270" y="103">30.10%</text>
<text class="a" x="510" y="76">188</text><text class="b" x="510" y="90">118488</text><text class="c" x="510" y="103">62.75%</text>
<text class="a" x="750" y="76">250</text><text class="b" x="750" y="90">119488</text><text class="c" x="750" y="103">62.75%</text>
<text class="a" x="990" y="76">287</text><text class="b" x="990" y="90">120636</text><text class="c" x="990" y="103">62.75%</text></g>

<!-- row 22 -->
<g transform="translate(0,3307)"><use href="#g4"/><use href="#PA" x="31"/><use href="#PB" x="271"/><use href="#PA" x="511"/><use href="#PB" x="751"/>
<text class="t" x="31" y="-21">♩=177</text><text class="t" x="271" y="-21">♩=189</text><text class="t" x="511" y="-21">♩=176</text><text class="t" x="751" y="-21">♩=185</text>
<text class="m" x="31" y="-8">89</text><text class="m" x="271" y="-8">90</text><text class="m" x="511" y="-8">91</text><text class="m" x="751" y="-8">92</text>
<text class="a" x="270" y="76">256</text><text class="b" x="270" y="90">121660</text><text class="c" x="270" y="103">62.75%</text>
<text class="a" x="510" y="76">280</text><text class="b" x="510" y="90">122780</text><text class="c" x="510" y="103">62.75%</text>
<text class="a" x="750" y="76">325</text><text class="b" x="750" y="90">124080</text><text class="c" x="750" y="103">62.75%</text>
<text class="a" x="990" y="76">280</text><text class="b" x="990" y="90">125200</text><text class="c" x="990" y="103">62.75%</text></g>

<!-- row 23 -->
<g transform="translate(0,3448)"><use href="#g4"/><use href="#RB0" x="31"/><use href="#RB0" x="271"/><use href="#RBs" x="511"/><use href="#RBs" x="751"/>
<text class="t" x="31" y="-21">♩=181</text><text class="t" x="271" y="-21">♩=182</text><text class="t" x="511" y="-21">♩=181</text><text class="t" x="751" y="-21">♩=182</text>
<text class="m" x="31" y="-8">93</text><text class="m" x="271" y="-8">94</text><text class="m" x="511" y="-8">95</text><text class="m" x="751" y="-8">96</text>
<text class="a" x="270" y="76">155</text><text class="b" x="270" y="90">125820</text><text class="c" x="270" y="103">62.75%</text>
<text class="a" x="510" y="76">155</text><text class="b" x="510" y="90">126440</text><text class="c" x="510" y="103">62.75%</text>
<text class="a" x="750" y="76">400</text><text class="b" x="750" y="90">128040</text><text class="c" x="750" y="103">62.75%</text>
<text class="a" x="990" y="76">375</text><text class="b" x="990" y="90">129540</text><text class="c" x="990" y="103">62.75%</text></g>

<!-- row 24 -->
<g transform="translate(0,3589)"><use href="#g4"/><use href="#RB0" x="31"/><use href="#RB0" x="271"/><use href="#RY" x="511"/><use href="#RY" x="751"/>
<rect class="og" x="31" y="0" width="423" height="60"/><rect class="or" x="514" y="0" width="4" height="60"/><rect class="ob" x="518" y="0" width="473" height="60"/>
<text class="t" x="31" y="-21">♩=183</text><text class="t" x="271" y="-21">♩=181</text><text class="t" x="511" y="-21">♩=182</text><text class="t" x="751" y="-21">♩=184</text>
<text class="m" x="31" y="-8">97</text><text class="m" x="271" y="-8">98</text><text class="m" x="511" y="-8">99</text><text class="m" x="751" y="-8">100</text>
<text class="a" x="270" y="76">155</text><text class="b" x="270" y="90">130160</text><text class="c" x="270" y="103">67.00%</text>
<text class="a" x="510" y="76">155</text><text class="b" x="510" y="90">130780</text><text class="c" x="510" y="103">96.25%</text>
<text class="a" x="750" y="76">400</text><text class="b" x="750" y="90">133980</text><text class="c" x="750" y="103">84.00%</text>
<text class="a" x="990" y="76">375</text><text class="b" x="990" y="90">136980</text><text class="c" x="990" y="103">71.50%</text></g>

<!-- row 25 -->
<g transform="translate(0,3730)"><use href="#g4"/><use href="#RB0" x="31"/><use href="#RB0" x="271"/><use href="#RY" x="511"/><use href="#RBs" x="751"/>
<rect class="ob" x="31" y="0" width="960" height="60"/>
<text class="t" x="31" y="-21">♩=182</text><text class="t" x="271" y="-21">♩=182</text><text class="t" x="511" y="-21">♩=181</text><text class="t" x="751" y="-21">♩=182</text>
<text class="m" x="31" y="-8">101</text><text class="m" x="271" y="-8">102</text><text class="m" x="511" y="-8">103</text><text class="m" x="751" y="-8">104</text>
<text class="a" x="270" y="76">155</text><text class="b" x="270" y="90">138220</text><text class="c" x="270" y="103">59.00%</text>
<text class="a" x="510" y="76">155</text><text class="b" x="510" y="90">139460</text><text class="c" x="510" y="103">46.50%</text>
<text class="a" x="750" y="76">400</text><text class="b" x="750" y="90">142660</text><text class="c" x="750" y="103">34.00%</text>
<text class="a" x="990" y="76">375</text><text class="b" x="990" y="90">145660</text><text class="c" x="990" y="103">21.50%</text></g>

<!-- row 26 -->
<g transform="translate(0,3871)"><rect class="pb" x="272" y="-10" width="287" height="81"/><use href="#g4"/><use href="#BO" x="31"/><use href="#RBs" x="271"/><use href="#PA" x="511"/><use href="#PB" x="751"/>
<rect class="ob" x="31" y="0" width="415" height="60"/><rect class="og" x="272" y="0" width="287" height="60"/><rect class="or" x="446" y="0" width="8" height="60"/><rect class="or" x="965" y="0" width="2" height="60"/><rect class="ob" x="967" y="0" width="24" height="60"/>
<text class="t" x="271" y="-21">♩=186</text><text class="t" x="511" y="-21">♩=175</text><text class="t" x="751" y="-21">♩=186</text>
<text class="m" x="31" y="-8">105</text><text class="m" x="271" y="-8">106</text><text class="m" x="511" y="-8">107</text><text class="m" x="751" y="-8">108</text>
<text class="a" x="270" y="76">375</text><text class="b" x="270" y="90">148660</text><text class="c" x="270" y="103">9.00%</text>
<text class="a" x="510" y="76">412</text><text class="b" x="510" y="90">151708</text><text class="c" x="510" y="103">26.70%</text>
<text class="a" x="750" y="76">275</text><text class="b" x="750" y="90">152808</text><text class="c" x="750" y="103">29.25%</text>
<text class="a" x="990" y="76">280</text><text class="b" x="990" y="90">154328</text><text class="c" x="990" y="103">27.79%</text></g>

<!-- row 27 -->
<g transform="translate(0,4012)"><use href="#g4"/><use href="#PA" x="31"/><use href="#PB" x="271"/><use href="#PA" x="511"/><use href="#PB" x="751"/>
<rect class="ob" x="31" y="0" width="960" height="60"/>
<text class="t" x="31" y="-21">♩=181</text><text class="t" x="271" y="-21">♩=182</text><text class="t" x="394" y="-21">♩=198</text><text class="t" x="511" y="-21">♩=172</text><text class="t" x="751" y="-21">♩=185</text>
<text class="m" x="31" y="-8">109</text><text class="m" x="271" y="-8">110</text><text class="m" x="511" y="-8">111</text><text class="m" x="751" y="-8">112</text>
<text class="a" x="270" y="76">325</text><text class="b" x="270" y="90">156928</text><text class="c" x="270" y="103">15.29%</text>
<text class="a" x="510" y="76">180</text><text class="b" x="510" y="90">158368</text><text class="c" x="510" y="103">2.79%</text>
<text class="a" x="750" y="76">300</text><text class="b" x="750" y="90">160768</text><text class="c" x="750" y="103">0.00%</text>
<text class="a" x="990" y="76">280</text><text class="b" x="990" y="90">163008</text><text class="c" x="990" y="103">0.00%</text></g>

<!-- row 28 -->
<g transform="translate(0,4153)"><rect class="pb" x="755" y="-10" width="211" height="81"/><use href="#g4"/><use href="#PA" x="31"/><use href="#PB" x="271"/><use href="#S" x="511"/><use href="#S" x="751"/>
<rect class="ob" x="31" y="0" width="54" height="60"/><rect class="or" x="85" y="0" width="5" height="60"/><rect class="og" x="755" y="0" width="211" height="60"/>
<text class="t" x="31" y="-21">♩=183</text><text class="t" x="271" y="-21">♩=184</text><text class="t" x="511" y="-21">♩=179</text><text class="t" x="751" y="-21">♩=183</text>
<text class="m" x="31" y="-8">113</text><text class="m" x="271" y="-8">114</text><text class="m" x="511" y="-8">115</text><text class="m" x="751" y="-8">116</text>
<text class="a" x="270" y="76">325</text><text class="b" x="270" y="90">164880</text><text class="c" x="270" y="103">0.00%</text>
<text class="a" x="510" y="76">180</text><text class="b" x="510" y="90">165600</text><text class="c" x="510" y="103">0.00%</text>
<text class="a" x="750" y="76">250</text><text class="b" x="750" y="90">166600</text><text class="c" x="750" y="103">0.00%</text>
<text class="a" x="990" y="76">250</text><text class="b" x="990" y="90">167600</text><text class="c" x="990" y="103">25.00%</text></g>

<!-- row 29 -->
<g transform="translate(0,4294)"><use href="#g4"/><use href="#S" x="31"/><use href="#S" x="271"/><use href="#S" x="511"/><use href="#S" x="751"/>
<text class="t" x="31" y="-21">♩=181</text><text class="t" x="271" y="-21">♩=182</text><text class="t" x="511" y="-21">♩=181</text><text class="t" x="751" y="-21">♩=184</text>
<text class="m" x="31" y="-8">117</text><text class="m" x="271" y="-8">118</text><text class="m" x="511" y="-8">119</text><text class="m" x="751" y="-8">120</text>
<text class="a" x="270" y="76">250</text><text class="b" x="270" y="90">168600</text><text class="c" x="270" y="103">25.00%</text>
<text class="a" x="510" y="76">250</text><text class="b" x="510" y="90">169600</text><text class="c" x="510" y="103">25.00%</text>
<text class="a" x="750" y="76">250</text><text class="b" x="750" y="90">170600</text><text class="c" x="750" y="103">25.00%</text>
<text class="a" x="990" y="76">250</text><text class="b" x="990" y="90">171600</text><text class="c" x="990" y="103">25.00%</text></g>

<!-- row 30 -->
<g transform="translate(0,4435)"><use href="#g4"/><use href="#S" x="31"/><use href="#S" x="271"/><use href="#S" x="511"/><use href="#S" x="751"/>
<text class="t" x="31" y="-21">♩=182</text><text class="t" x="271" y="-21">♩=183</text><text class="t" x="511" y="-21">♩=180</text><text class="t" x="751" y="-21">♩=183</text>
<text class="m" x="31" y="-8">121</text><text class="m" x="271" y="-8">122</text><text class="m" x="511" y="-8">123</text><text class="m" x="751" y="-8">124</text>
<text class="a" x="270" y="76">250</text><text class="b" x="270" y="90">172600</text><text class="c" x="270" y="103">25.00%</text>
<text class="a" x="510" y="76">250</text><text class="b" x="510" y="90">173600</text><text class="c" x="510" y="103">25.00%</text>
<text class="a" x="750" y="76">250</text><text class="b" x="750" y="90">174600</text><text class="c" x="750" y="103">25.00%</text>
<text class="a" x="990" y="76">250</text><text class="b" x="990" y="90">175600</text><text class="c" x="990" y="103">25.00%</text></g>

<!-- row 31 -->
<g transform="translate(0,4576)"><use href="#g4"/><use href="#S" x="31"/><use href="#S" x="271"/><use href="#S" x="511"/><use href="#S" x="751"/>
<rect class="og" x="272" y="0" width="212" height="60"/>
<text class="t" x="31" y="-21">♩=182</text><text class="t" x="271" y="-21">♩=184</text><text class="t" x="511" y="-21">♩=180</text><text class="t" x="751" y="-21">♩=183</text>
<text class="m" x="31" y="-8">125</text><text class="m" x="271" y="-8">126</text><text class="m" x="511" y="-8">127</text><text class="m" x="751" y="-8">128</text>
<text class="a" x="270" y="76">250</text><text class="b" x="270" y="90">176600</text><text class="c" x="270" y="103">25.00%</text>
<text class="a" x="510" y="76">250</text><text class="b" x="510" y="90">177600</text><text class="c" x="510" y="103">50.00%</text>
<text class="a" x="750" y="76">250</text><text class="b" x="750" y="90">178600</text><text class="c" x="750" y="103">50.00%</text>
<text class="a" x="990" y="76">250</text><text class="b" x="990" y="90">179600</text><text class="c" x="990" y="103">50.00%</text></g>

<!-- row 32 -->
<g transform="translate(0,4717)"><use href="#g4"/><use href="#S" x="31"/><use href="#S" x="271"/><use href="#S" x="511"/><use href="#S" x="751"/>
<text class="t" x="31" y="-21">♩=181</text><text class="t" x="271" y="-21">♩=182</text><text class="t" x="511" y="-21">♩=183</text><text class="t" x="751" y="-21">♩=181</text>
<text class="m" x="31" y="-8">129</text><text class="m" x="271" y="-8">130</text><text class="m" x="511" y="-8">131</text><text class="m" x="751" y="-8">132</text>
<text class="a" x="270" y="76">250</text><text class="b" x="270" y="90">180600</text><text class="c" x="270" y="103">50.00%</text>
<text class="a" x="510" y="76">250</text><text class="b" x="510" y="90">181600</text><text class="c" x="510" y="103">50.00%</text>
<text class="a" x="750" y="76">250</text><text class="b" x="750" y="90">182600</text><text class="c" x="750" y="103">50.00%</text>
<text class="a" x="990" y="76">250</text><text class="b" x="990" y="90">183600</text><text class="c" x="990" y="103">50.00%</text></g>

<!-- row 33 -->
<g transform="translate(0,4858)"><use href="#g4"/><use href="#S" x="31"/><use href="#S" x="271"/><use href="#S" x="511"/><use href="#S" x="751"/>
<rect class="or" x="755" y="0" width="11" height="60"/><rect class="ob" x="766" y="0" width="225" height="60"/>
<text class="t" x="31" y="-21">♩=182</text><text class="t" x="511" y="-21">♩=182</text><text class="t" x="751" y="-21">♩=180</text>
<text class="m" x="31" y="-8">133</text><text class="m" x="271" y="-8">134</text><text class="m" x="511" y="-8">135</text><text class="m" x="751" y="-8">136</text>
<text class="a" x="270" y="76">250</text><text class="b" x="270" y="90">184600</text><text class="c" x="270" y="103">50.00%</text>
<text class="a" x="510" y="76">250</text><text class="b" x="510" y="90">185600</text><text class="c" x="510" y="103">50.00%</text>
<text class="a" x="750" y="76">250</text><text class="b" x="750" y="90">186600</text><text class="c" x="750" y="103">50.00%</text>
<text class="a" x="990" y="76">250</text><text class="b" x="990" y="90">188600</text><text class="c" x="990" y="103">38.16%</text></g>

<!-- row 34 -->
<g transform="translate(0,4999)"><use href="#g4"/><use href="#S" x="31"/><use href="#S" x="271"/><use href="#S" x="511"/><use href="#SEx" x="751"/>
<rect class="ob" x="31" y="0" width="960" height="60"/>
<text class="t" x="31" y="-21">♩=185</text><text class="t" x="271" y="-21">♩=182</text><text class="t" x="751" y="-21">♩=182</text>
<text class="m" x="31" y="-8">137</text><text class="m" x="271" y="-8">138</text><text class="m" x="511" y="-8">139</text><text class="m" x="751" y="-8">140</text>
<text class="a" x="270" y="76">250</text><text class="b" x="270" y="90">190600</text><text class="c" x="270" y="103">25.66%</text>
<text class="a" x="510" y="76">250</text><text class="b" x="510" y="90">192600</text><text class="c" x="510" y="103">13.16%</text>
<text class="a" x="750" y="76">250</text><text class="b" x="750" y="90">194600</text><text class="c" x="750" y="103">0.66%</text>
<text class="a" x="990" y="76">287</text><text class="b" x="990" y="90">196896</text><text class="c" x="990" y="103">0.00%</text></g>

<!-- row 35 -->
<g transform="translate(0,5140)"><use href="#g4"/><use href="#PA" x="31"/><use href="#PB" x="271"/><use href="#S" x="511"/><use href="#SEx" x="751"/>
<rect class="ob" x="31" y="0" width="255" height="60"/><rect class="or" x="286" y="0" width="16" height="60"/>
<text class="t" x="31" y="-21">♩=178</text><text class="t" x="271" y="-21">♩=184</text><text class="t" x="511" y="-21">♩=182</text><text class="t" x="751" y="-21">♩=184</text>
<text class="m" x="31" y="-8">141</text><text class="m" x="271" y="-8">142</text><text class="m" x="511" y="-8">143</text><text class="m" x="751" y="-8">144</text>
<text class="a" x="270" y="76">275</text><text class="b" x="270" y="90">199096</text><text class="c" x="270" y="103">0.00%</text>
<text class="a" x="510" y="76">180</text><text class="b" x="510" y="90">200040</text><text class="c" x="510" y="103">0.00%</text>
<text class="a" x="750" y="76">250</text><text class="b" x="750" y="90">201040</text><text class="c" x="750" y="103">0.00%</text>
<text class="a" x="990" y="76">287</text><text class="b" x="990" y="90">202188</text><text class="c" x="990" y="103">0.00%</text></g>

<!-- row 36 -->
<g transform="translate(0,5281)"><use href="#g2"/><use href="#PA" x="31"/><use href="#PB" x="271"/>
<text class="t" x="31" y="-21">♩=179</text><text class="t" x="152" y="-21">♩=178</text>
<text class="m" x="31" y="-8">145</text><text class="m" x="271" y="-8">146</text>
<text class="a" x="270" y="76">275</text><text class="b" x="270" y="90">203288</text><text class="c" x="270" y="103">0.00%</text>
<text class="a" x="510" y="76">180</text><text class="b" x="510" y="90">204008</text><text class="c" x="510" y="103">0.00%</text></g>
</svg>
</body></html>
